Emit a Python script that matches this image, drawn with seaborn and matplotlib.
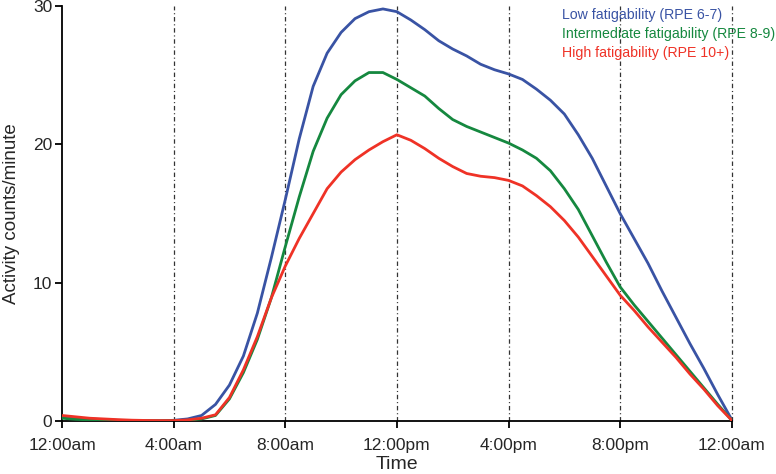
import numpy as np
import pandas as pd
import matplotlib
matplotlib.use('Agg')
import seaborn as sns
import matplotlib.pyplot as plt

# hours of the day, every half hour
hours = np.arange(0, 24.5, 0.5)

low = [0.3, 0.2, 0.15, 0.1, 0.05, 0.03, 0.02, 0.02, 0.05, 0.15,
       0.4, 1.2, 2.6, 4.7, 7.8, 11.8, 16.0, 20.4, 24.2, 26.6,
       28.1, 29.1, 29.6, 29.8, 29.6, 29.0, 28.3, 27.5, 26.9, 26.4,
       25.8, 25.4, 25.1, 24.7, 24.0, 23.2, 22.2, 20.7, 19.0, 17.0,
       15.0, 13.2, 11.4, 9.4, 7.5, 5.6, 3.8, 1.9, 0.1]
intermediate = [0.2, 0.12, 0.08, 0.05, 0.03, 0.02, 0.01, 0.01, 0.02, 0.05,
                0.15, 0.4, 1.6, 3.5, 5.9, 8.9, 12.6, 16.2, 19.5, 21.9,
                23.6, 24.6, 25.2, 25.2, 24.7, 24.1, 23.5, 22.6, 21.8, 21.3,
                20.9, 20.5, 20.1, 19.6, 19.0, 18.1, 16.8, 15.3, 13.4, 11.5,
                9.7, 8.4, 7.2, 6.0, 4.8, 3.6, 2.4, 1.2, 0.05]
high = [0.4, 0.3, 0.2, 0.15, 0.1, 0.06, 0.04, 0.03, 0.03, 0.08,
        0.2, 0.45, 1.7, 3.7, 6.1, 8.9, 11.2, 13.2, 15.0, 16.8,
        18.0, 18.9, 19.6, 20.2, 20.7, 20.3, 19.7, 19.0, 18.4, 17.9,
        17.7, 17.6, 17.4, 17.0, 16.3, 15.5, 14.5, 13.3, 11.9, 10.5,
        9.1, 8.0, 6.8, 5.7, 4.6, 3.4, 2.3, 1.1, 0.05]

groups = ['Low fatigability (RPE 6-7)',
          'Intermediate fatigability (RPE 8-9)',
          'High fatigability (RPE 10+)']
colors = ['#3953a4', '#15883f', '#ef3226']

tick_hours = [0, 4, 8, 12, 16, 20, 24]
tick_labels = ['12:00am', '4:00am', '8:00am', '12:00pm', '4:00pm', '8:00pm', '12:00am']

df = pd.DataFrame({
    'hour': np.concatenate([hours, hours, hours]),
    'counts': low + intermediate + high,
    'group': np.repeat(groups, len(hours)),
})

sns.set_theme(style='ticks')
plt.rcParams['font.family'] = ['Liberation Sans', 'DejaVu Sans']
plt.rcParams['lines.scale_dashes'] = False

fig = plt.figure(figsize=(7.76, 4.74), dpi=100)
ax = fig.add_axes([0.0799, 0.1118, 0.943 - 0.0799, 0.987 - 0.1118])

# vertical dash-dot guides
for h in tick_hours[1:]:
    ax.axvline(h, color='#333333', lw=0.9, ls=(0, (3.2, 2.0, 0.8, 2.0)),
               zorder=1, clip_on=False)

sns.lineplot(data=df, x='hour', y='counts', hue='group', palette=colors,
             linewidth=2.0, ax=ax, zorder=3)

ax.set_xlim(0, 24)
ax.set_ylim(0, 30)
ax.set_xticks(tick_hours)
ax.set_xticklabels(tick_labels)
ax.set_yticks([0, 10, 20, 30])
ax.tick_params(labelsize=12.5, length=5, width=1.3, color='black')
ax.tick_params(axis='x', pad=7.5)
ax.tick_params(axis='y', pad=2)
ax.set_xlabel('Time', fontsize=14, labelpad=2)
ax.set_ylabel('Activity counts/minute', fontsize=13.5, labelpad=9)
sns.despine(ax=ax)
for s in ['left', 'bottom']:
    ax.spines[s].set_linewidth(1.3)
    ax.spines[s].set_color('black')

leg = ax.legend(loc='upper left', bbox_to_anchor=(0.7385, 1.01), frameon=False,
                handlelength=0, handletextpad=0, labelcolor='linecolor',
                fontsize=10.2, labelspacing=0.35, borderaxespad=0)
for h in leg.legend_handles:
    h.set_visible(False)

fig.savefig('out.png', dpi=100)
